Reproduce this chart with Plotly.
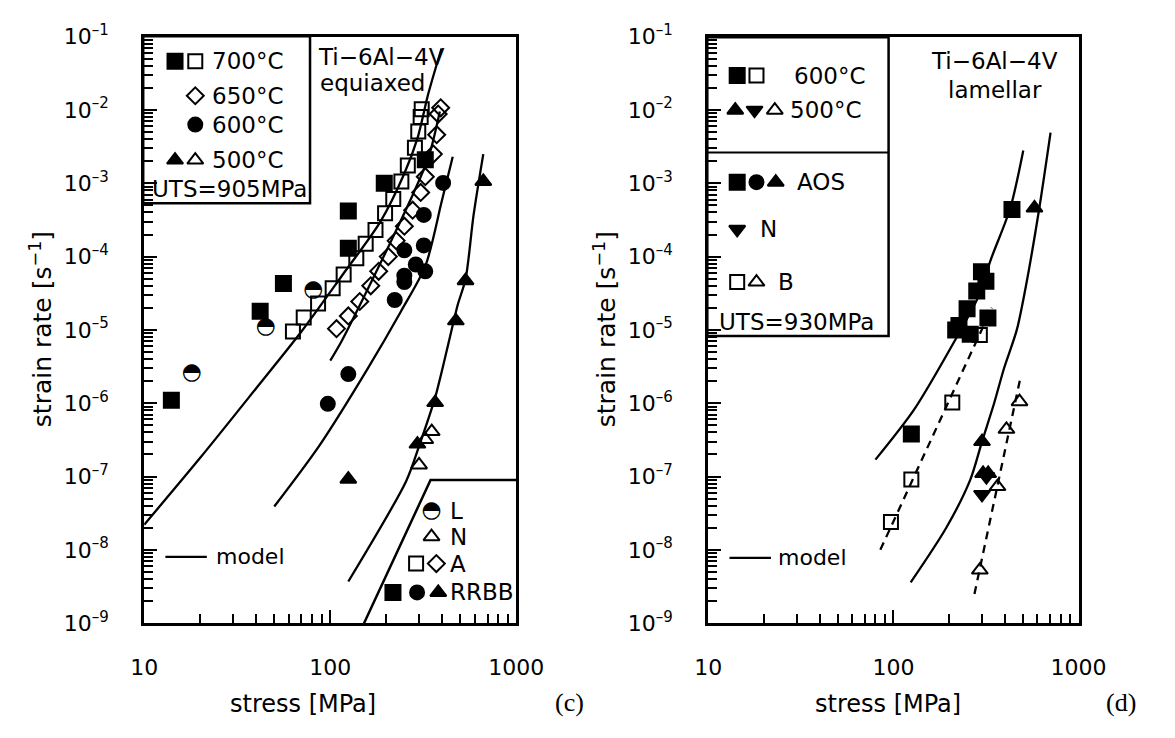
import plotly.graph_objects as go

W, H = 1175, 738

# ---------------- panel (c): Ti-6Al-4V equiaxed ----------------
# 700 °C, RRBB (filled squares)
c700_rrbb_x = [14, 42, 56, 125, 125, 195, 324]
c700_rrbb_y = [1.1e-6, 1.8e-5, 4.3e-5, 4.2e-4, 1.3e-4, 1.0e-3, 2.1e-3]
# 700 °C, A (open squares)
c700_a_x = [63, 72, 86, 103, 118, 138, 155, 175, 197, 218, 241, 261, 285, 297, 306, 310]
c700_a_y = [9.5e-6, 1.48e-5, 2.3e-5, 3.7e-5, 5.7e-5, 9.5e-5, 1.5e-4, 2.3e-4, 3.9e-4,
            6.1e-4, 1.06e-3, 1.75e-3, 3.05e-3, 5.1e-3, 8.0e-3, 1.02e-2]
# L (half-filled circles)
c_l_x = [18, 45, 81]
c_l_y = [2.6e-6, 1.1e-5, 3.5e-5]
# 650 °C, A (open diamonds)
c650_a_x = [108, 125, 144, 165, 182, 205, 226, 250, 277, 306, 324, 358, 373, 380, 392]
c650_a_y = [1.04e-5, 1.55e-5, 2.44e-5, 4.0e-5, 6.3e-5, 1.0e-4, 1.65e-4, 2.6e-4, 4.3e-4,
            7.5e-4, 1.23e-3, 2.5e-3, 4.6e-3, 8.8e-3, 1.07e-2]
# 600 °C, RRBB (filled circles)
c600_rrbb_x = [97, 125, 222, 250, 250, 250, 288, 324, 318, 318, 404]
c600_rrbb_y = [9.8e-7, 2.5e-6, 2.56e-5, 4.5e-5, 5.5e-5, 1.22e-4, 7.8e-5, 6.3e-5, 1.42e-4, 3.7e-4, 1.01e-3]
# 500 °C, RRBB (filled triangles)
c500_rrbb_x = [125, 294, 366, 473, 533, 664]
c500_rrbb_y = [9.2e-8, 2.77e-7, 1.02e-6, 1.33e-5, 4.7e-5, 1.06e-3]
# 500 °C, N (open triangles)
c500_n_x = [300, 324, 351]
c500_n_y = [1.44e-7, 3.2e-7, 4.1e-7]

# model curves, panel (c)
cm700_x = [10, 20, 40, 70, 115, 186, 250, 294, 337, 396]
cm700_y = [2.2e-8, 1.8e-7, 1.6e-6, 9.5e-6, 5.4e-5, 3.0e-4, 1.36e-3, 4.1e-3, 1.7e-2, 6.9e-2]
cm650_x = [100, 115, 147, 209, 266, 337, 388]
cm650_y = [3.8e-6, 7.0e-6, 2.4e-5, 1.5e-4, 5.5e-4, 2.25e-3, 9.5e-3]
cm600_x = [50, 87, 158, 240, 324, 396, 455]
cm600_y = [3.9e-8, 2.6e-7, 2.9e-6, 1.8e-5, 7.4e-5, 5.5e-4, 2.3e-3]
cm500_x = [125, 256, 300, 366, 428, 484, 533, 589, 664]
cm500_y = [3.7e-9, 8.7e-8, 2.6e-7, 1.2e-6, 6.0e-6, 2.2e-5, 4.9e-5, 3.7e-4, 2.5e-3]

# ---------------- panel (d): Ti-6Al-4V lamellar ----------------
# 600 °C, AOS (filled squares)
d600_aos_x = [125, 217, 226, 250, 260, 282, 299, 316, 324, 437]
d600_aos_y = [3.8e-7, 1.0e-5, 1.15e-5, 1.95e-5, 8.7e-6, 3.4e-5, 6.2e-5, 4.6e-5, 1.45e-5, 4.4e-4]
# 600 °C, B (open squares)
d600_b_x = [97, 125, 208, 293]
d600_b_y = [2.4e-8, 9.1e-8, 1.02e-6, 8.5e-6]
# 500 °C, AOS (filled triangles)
d500_aos_x = [301, 305, 325, 578]
d500_aos_y = [3.0e-7, 1.1e-7, 1.1e-7, 4.6e-4]
# 500 °C, N (filled down-triangles)
d500_n_x = [301, 318]
d500_n_y = [5.7e-8, 1.0e-7]
# 500 °C, B (open triangles)
d500_b_x = [293, 365, 408, 480]
d500_b_y = [5.3e-9, 7.3e-8, 4.4e-7, 1.05e-6]

# model curves (solid) and B-condition fits (dashed), panel (d)
dm600_x = [80, 129, 217, 287, 337, 428, 503]
dm600_y = [1.7e-7, 8.1e-7, 7.5e-6, 2.8e-5, 9.3e-5, 4.6e-4, 2.8e-3]
dm500_x = [124, 193, 260, 301, 350, 396, 464, 520, 614, 706]
dm500_y = [3.6e-9, 2.0e-8, 9.0e-8, 3.0e-7, 1.0e-6, 3.0e-6, 1.0e-5, 4.0e-5, 4.6e-4, 4.9e-3]
dfit600_x = [85, 340]
dfit600_y = [1.0e-8, 2.0e-5]
dfit500_x = [274, 483]
dfit500_y = [2.5e-9, 2.1e-6]

x_tickvals = [10, 100, 1000]
x_ticktext = ["10", "100", "1000"]
y_tickvals = [10.0 ** e for e in range(-9, 0)]
y_ticktext = ["10<sup><span style='font-size:15px'>\u2013%d</span></sup>" % -e for e in range(-9, 0)]

# ---------------- layout geometry (pixels) ----------------
LX0, LX1 = 135, 521
RX0, RX1 = 720, 1104
YTOP, YBOT = 21.5, 632

def fx(p):
    return p / W

def fy(p):
    return 1 - p / H

TXT = dict(family="DejaVu Sans", size=23, color="black")

# marker sizes
SQ, SQO, DIA, CIR, TRI, HALF = 15, 14, 13, 14, 14, 23

fig = go.Figure()

def line(x, y, ax, dash=None):
    fig.add_trace(go.Scatter(x=x, y=y, mode="lines", xaxis=ax[0], yaxis=ax[1],
                             line=dict(color="black", width=2.3, shape="spline",
                                       smoothing=0.8, dash=dash),
                             showlegend=False, hoverinfo="skip"))

def pts(x, y, ax, symbol, size):
    fig.add_trace(go.Scatter(x=x, y=y, mode="markers", xaxis=ax[0], yaxis=ax[1],
                             marker=dict(symbol=symbol, size=size, color="black",
                                         line=dict(width=2, color="black")),
                             showlegend=False))

def half(x, y, ax, size=HALF):
    fig.add_trace(go.Scatter(x=x, y=y, mode="text", xaxis=ax[0], yaxis=ax[1],
                             text=["\u25d3"] * len(x), textposition="middle center",
                             textfont=dict(family="DejaVu Sans", size=size, color="black"),
                             showlegend=False))

L = ("x", "y")
R = ("x2", "y2")
K = ("x3", "y3")

# panel (c)
for xs, ys in [(cm700_x, cm700_y), (cm650_x, cm650_y), (cm600_x, cm600_y), (cm500_x, cm500_y)]:
    line(xs, ys, L)
pts(c700_a_x, c700_a_y, L, "square-open", SQO)
pts(c650_a_x, c650_a_y, L, "diamond-open", DIA)
pts(c700_rrbb_x, c700_rrbb_y, L, "square", SQ)
pts(c600_rrbb_x, c600_rrbb_y, L, "circle", CIR)
pts(c500_rrbb_x, c500_rrbb_y, L, "triangle-up", TRI)
pts(c500_n_x, c500_n_y, L, "triangle-up-open", TRI)
half(c_l_x, c_l_y, L)

# panel (d)
line(dm600_x, dm600_y, R)
line(dm500_x, dm500_y, R)
line(dfit600_x, dfit600_y, R, dash="8px,6px")
line(dfit500_x, dfit500_y, R, dash="8px,6px")
pts(d600_aos_x, d600_aos_y, R, "square", SQ)
pts(d600_b_x, d600_b_y, R, "square-open", SQO)
pts(d500_aos_x, d500_aos_y, R, "triangle-up", TRI)
pts(d500_n_x, d500_n_y, R, "triangle-down", TRI)
pts(d500_b_x, d500_b_y, R, "triangle-up-open", TRI)

# legend keys, placed on a full-figure pixel axis
def key(px, py, symbol, size):
    pts([px], [py], K, symbol, size)

# panel (c), upper-left box
key(167, 47, "square", SQ); key(188, 47, "square-open", SQO)
key(188, 83, "diamond-open", DIA)
key(188, 113, "circle", CIR)
key(167, 150, "triangle-up", TRI); key(188, 150, "triangle-up-open", TRI)
# panel (c), lower-right box
half([433], [515], K)
key(433, 542, "triangle-up-open", TRI)
key(417, 570, "square-open", SQO); key(438, 570, "diamond-open", DIA)
key(393, 600, "square", SQ); key(418, 600, "circle", CIR); key(440, 600, "triangle-up", TRI)
# panel (d) box
key(750, 62, "square", SQ); key(770, 62, "square-open", SQO)
key(748, 98, "triangle-up", TRI); key(768, 98, "triangle-down", TRI); key(789, 98, "triangle-up-open", TRI)
key(750, 173, "square", SQ); key(770, 173, "circle", CIR); key(790, 173, "triangle-up", TRI)
key(750, 222, "triangle-down", TRI)
key(750, 277, "square-open", SQO); key(770, 277, "triangle-up-open", TRI)

annotations = []

def text(px, py, s, anchor="left", font=None, angle=0):
    annotations.append(dict(x=fx(px), y=fy(py), xref="paper", yref="paper", text=s,
                            showarrow=False, xanchor=anchor, yanchor="middle",
                            textangle=angle, font=font or TXT))

text(203, 47, "700°C"); text(203, 83, "650°C"); text(203, 113, "600°C"); text(203, 150, "500°C")
text(224, 180, "UTS=905MPa", "center")
text(313, 43, "Ti\u22126Al\u22124V"); text(315, 70, "equiaxed")
text(450, 515, "L"); text(450, 542, "N"); text(450, 570, "A"); text(450, 600, "RRBB")
text(207, 563, "model", font=dict(family="DejaVu Sans", size=22, color="black"))

text(807, 62, "600°C"); text(803, 98, "500°C")
text(810, 173, "AOS"); text(772, 222, "N"); text(790, 277, "B")
text(812, 318, "UTS=930MPa", "center")
text(1017, 47, "Ti\u22126Al\u22124V", "center"); text(1017, 77, "lamellar", "center")
text(790, 564, "model", font=dict(family="DejaVu Sans", size=22, color="black"))

Y_T = dict(family="DejaVu Sans", size=25, color="black")
text(28, 326, "strain rate [s<sup>\u22121</sup>]", "center", Y_T, angle=-90)
text(613, 326, "strain rate [s<sup>\u22121</sup>]", "center", Y_T, angle=-90)
AX_T = dict(family="DejaVu Sans", size=24, color="black")
text(300, 716, "stress [MPa]", "center", AX_T)
text(906, 716, "stress [MPa]", "center", AX_T)
text(576, 715, "(c)", "center", dict(family="Liberation Serif", size=26, color="black"))
text(1148, 715, "(d)", "center", dict(family="Liberation Serif", size=26, color="black"))

shapes = [
    dict(type="rect", xref="paper", yref="paper", x0=fx(134), x1=fx(307), y0=fy(195), y1=fy(21),
         line=dict(color="black", width=2.5)),
    dict(type="path", xref="paper", yref="paper",
         path="M %f,%f L %f,%f L %f,%f" % (fx(363), fy(632), fx(432), fy(483), fx(522), fy(483)),
         line=dict(color="black", width=2.5)),
    dict(type="line", xref="paper", yref="paper", x0=fx(157), x1=fx(200), y0=fy(563), y1=fy(563),
         line=dict(color="black", width=2.3)),
    dict(type="rect", xref="paper", yref="paper", x0=fx(719), x1=fx(907), y0=fy(333), y1=fy(22),
         line=dict(color="black", width=2.5)),
    dict(type="line", xref="paper", yref="paper", x0=fx(719), x1=fx(907), y0=fy(142), y1=fy(142),
         line=dict(color="black", width=2)),
    dict(type="line", xref="paper", yref="paper", x0=fx(742), x1=fx(785), y0=fy(564), y1=fy(564),
         line=dict(color="black", width=2.3)),
]

TICKFONT = dict(family="DejaVu Sans", size=22, color="black")

def xax(x0, x1, anchor):
    return dict(type="log", range=[1, 3], domain=[fx(x0), fx(x1)], anchor=anchor,
                showline=True, linecolor="black", linewidth=3, mirror=True,
                showgrid=False, zeroline=False, ticks="inside", ticklen=13, tickwidth=2,
                tickcolor="black", tickvals=x_tickvals, ticktext=x_ticktext,
                tickfont=TICKFONT, ticklabelstandoff=22,
                minor=dict(ticks="inside", ticklen=9, tickwidth=1.5, tickcolor="black",
                           dtick="D1", showgrid=False))

def yax(anchor):
    return dict(type="log", range=[-9, -1], domain=[fy(YBOT), fy(YTOP)], anchor=anchor,
                showline=True, linecolor="black", linewidth=3, mirror=True,
                showgrid=False, zeroline=False, ticks="inside", ticklen=13, tickwidth=2,
                tickcolor="black", tickvals=y_tickvals, ticktext=y_ticktext,
                tickfont=TICKFONT, ticklabelstandoff=28,
                minor=dict(ticks="inside", ticklen=9, tickwidth=1.5, tickcolor="black",
                           dtick="D1", showgrid=False))

fig.update_layout(
    width=W, height=H, margin=dict(l=0, r=0, t=0, b=0),
    paper_bgcolor="white", plot_bgcolor="rgba(0,0,0,0)",
    showlegend=False,
    xaxis=xax(LX0, LX1, "y"), yaxis=yax("x"),
    xaxis2=xax(RX0, RX1, "y2"), yaxis2=yax("x2"),
    xaxis3=dict(domain=[0, 1], range=[0, W], visible=False, anchor="y3", fixedrange=True),
    yaxis3=dict(domain=[0, 1], range=[H, 0], visible=False, anchor="x3", fixedrange=True),
    annotations=annotations, shapes=shapes,
)

fig.write_html("out.html")
